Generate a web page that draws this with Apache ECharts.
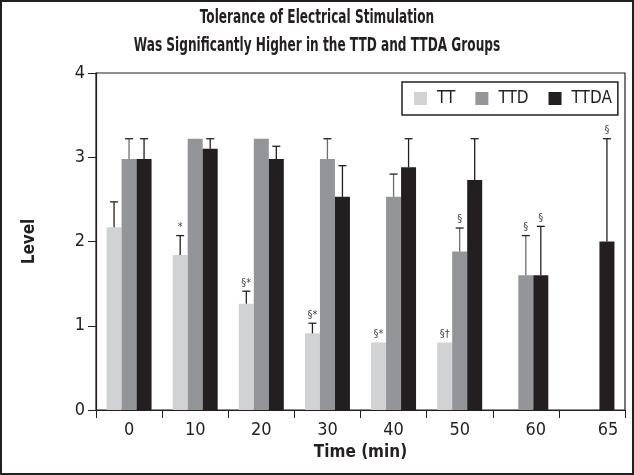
<!DOCTYPE html>
<html>
<head>
<meta charset="utf-8">
<script src="https://cdn.jsdelivr.net/npm/echarts@6/dist/echarts.min.js"></script>
<style>
html,body{margin:0;padding:0;background:#fff;}
#chart{width:634px;height:475px;}
</style>
</head>
<body>
<div id="chart"></div>
<script>
var categories = ['0', '10', '20', '30', '40', '50', '60', '65'];
var seriesNames = ['TT', 'TTD', 'TTDA'];
var ttValues   = [2.17, 1.84, 1.26, 0.91, 0.80, 0.80, null, null];
var ttdValues  = [2.98, 3.22, 3.22, 2.98, 2.53, 1.88, 1.60, null];
var ttdaValues = [2.98, 3.10, 2.98, 2.53, 2.88, 2.73, 1.60, 2.00];
var ttErrors   = [0.30, 0.23, 0.15, 0.12, 0, 0, 0, 0];
var ttdErrors  = [0.24, 0, 0, 0.24, 0.27, 0.28, 0.47, 0];
var ttdaErrors = [0.24, 0.12, 0.15, 0.37, 0.34, 0.49, 0.58, 1.22];
var ttMarks    = ['', '*', '§*', '§*', '§*', '§†', '', ''];
var ttdMarks   = ['', '', '', '', '', '§', '§', ''];
var ttdaMarks  = ['', '', '', '', '', '', '§', '§'];
var yTicks = [0, 1, 2, 3, 4];
var titleLines = ['Tolerance of Electrical Stimulation', 'Was Significantly Higher in the TTD and TTDA Groups'];

var FONT = "'DejaVu Sans Condensed','Liberation Sans',sans-serif";
var TXT = '#231f20';
var colors = ['#d1d2d4', '#939598', '#231f20'];
var errColors = ['#231f20', '#6d6e71', '#231f20'];
var BAR_W = 15;

var allValues = [ttValues, ttdValues, ttdaValues];
var allErrors = [ttErrors, ttdErrors, ttdaErrors];
var allMarks = [ttMarks, ttdMarks, ttdaMarks];

var errItems = [];
for (var s = 0; s < 3; s++) {
  for (var i = 0; i < categories.length; i++) {
    var v = allValues[s][i];
    if (v == null) continue;
    errItems.push({s: s, cat: i, v: v, e: allErrors[s][i], mark: allMarks[s][i]});
  }
}

var chart = echarts.init(document.getElementById('chart'), null, {renderer: 'canvas'});

var series = seriesNames.map(function (name, s) {
  return {
    name: name,
    type: 'bar',
    data: allValues[s],
    barWidth: BAR_W,
    barGap: '0%',
    itemStyle: {color: colors[s]},
    silent: true,
    z: 2
  };
});

series.push({
  type: 'custom',
  silent: true,
  z: 5,
  data: errItems.map(function (it) { return [it.cat, it.v + it.e]; }),
  renderItem: function (params, api) {
    var it = errItems[params.dataIndex];
    var offset = (it.s - 1) * BAR_W;
    var base = api.coord([it.cat, it.v]);
    var top = api.coord([it.cat, it.v + it.e]);
    var x = base[0] + offset;
    var children = [];
    if (it.e > 0) {
      children.push({
        type: 'line',
        shape: {x1: x, y1: base[1], x2: x, y2: top[1]},
        style: {stroke: errColors[it.s], lineWidth: 1.3}
      });
      children.push({
        type: 'line',
        shape: {x1: x - 4, y1: top[1], x2: x + 4, y2: top[1]},
        style: {stroke: '#231f20', lineWidth: 1.3}
      });
    }
    if (it.mark) {
      children.push({
        type: 'text',
        style: {
          x: x, y: top[1] - 3,
          text: it.mark,
          fill: '#444',
          font: '11px ' + FONT,
          textAlign: 'center',
          textVerticalAlign: 'bottom'
        }
      });
    }
    return {type: 'group', children: children};
  }
});

var labelRich = {
  a: {fontSize: 18, fontFamily: FONT, color: TXT},
  b: {fontSize: 18, fontFamily: FONT, color: TXT, padding: [0, 0, 0, 20]},
  c: {fontSize: 18, fontFamily: FONT, color: TXT, padding: [0, 0, 0, 32]}
};

chart.setOption({
  backgroundColor: '#fff',
  animation: false,
  legend: {
    data: seriesNames,
    left: 402,
    top: 82,
    orient: 'horizontal',
    icon: 'rect',
    itemWidth: 13,
    itemHeight: 13,
    itemGap: 20,
    padding: [8, 6, 8, 12],
    borderColor: '#231f20',
    borderWidth: 1.5,
    textStyle: {fontFamily: FONT, fontSize: 17, color: TXT, padding: [0, 0, 0, 5]},
    selectedMode: false
  },
  grid: {
    left: 96, right: 9, top: 73, bottom: 65,
    show: true, borderColor: '#231f20', borderWidth: 1.2
  },
  xAxis: {
    type: 'category',
    data: categories,
    name: 'Time (min)',
    nameLocation: 'middle',
    nameGap: 34,
    nameTextStyle: {fontFamily: FONT, fontSize: 17, fontWeight: 'bold', color: TXT},
    axisLine: {lineStyle: {color: '#231f20', width: 1.2}},
    axisTick: {show: true, length: 8, lineStyle: {color: '#231f20'}},
    axisLabel: {
      margin: 11,
      formatter: function (val) {
        if (val === '60') return '{b|' + val + '}';
        if (val === '65') return '{c|' + val + '}';
        return '{a|' + val + '}';
      },
      rich: labelRich
    }
  },
  yAxis: {
    type: 'value',
    min: yTicks[0],
    max: yTicks[yTicks.length - 1],
    interval: 1,
    name: 'Level',
    nameLocation: 'middle',
    nameGap: 58,
    nameTextStyle: {fontFamily: FONT, fontSize: 17, fontWeight: 'bold', color: TXT},
    axisLine: {show: true, lineStyle: {color: '#231f20', width: 1.2}},
    axisTick: {show: true, length: 8, lineStyle: {color: '#231f20'}},
    splitLine: {show: false},
    axisLabel: {margin: 11, fontFamily: FONT, fontSize: 18, color: TXT}
  },
  graphic: [{
    type: 'text',
    x: 317, y: 18, scaleX: 0.71,
    silent: true,
    style: {text: titleLines[0], font: 'bold 19px ' + FONT, fill: TXT, textAlign: 'center', textVerticalAlign: 'middle'}
  }, {
    type: 'text',
    x: 317, y: 46, scaleX: 0.71,
    silent: true,
    style: {text: titleLines[1], font: 'bold 19px ' + FONT, fill: TXT, textAlign: 'center', textVerticalAlign: 'middle'}
  }, {
    type: 'rect',
    shape: {x: 1, y: 1, width: 632, height: 473},
    style: {fill: 'none', stroke: '#231f20', lineWidth: 2},
    silent: true,
    z: 100
  }],
  series: series
});
</script>
</body>
</html>
